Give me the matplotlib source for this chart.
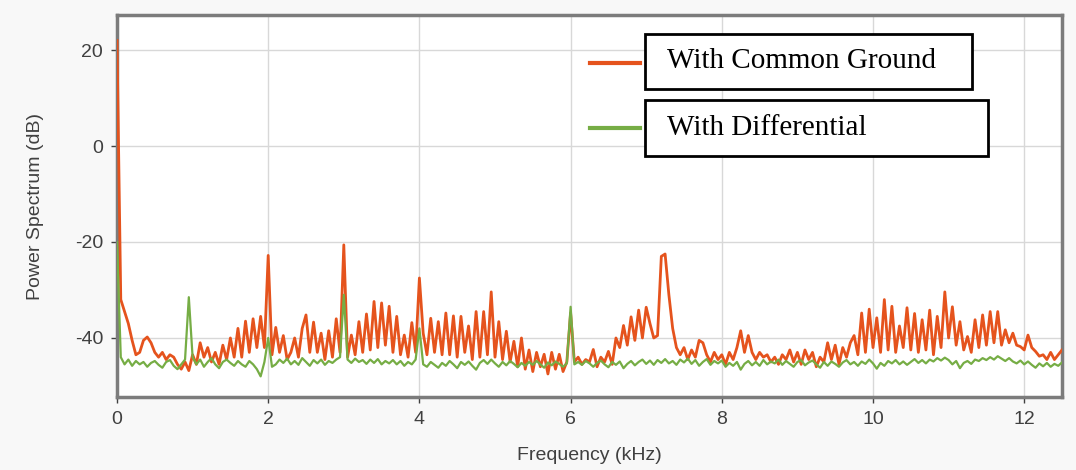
#!/usr/bin/env python3

# Power spectrum: common ground vs differential wiring

import numpy as np
import matplotlib.pyplot as plt
from matplotlib.patches import Rectangle
from matplotlib.lines import Line2D

plt.rcParams['axes.unicode_minus'] = False

# Frequency axis (kHz), one sample every 0.05 kHz
freq_step = 0.05
n_points = 251
freq_khz = np.round(np.arange(n_points) * freq_step, 2)

# With Common Ground (dB)
common_ground = [
    22, -32, -34.5, -37, -40.5, -43.5, -43, -40.5, -39.8, -41,
    -43, -44, -43, -44.5, -43.5, -44, -45.5, -46.5, -45, -46.8,
    -43.5, -45.5, -41, -44, -42, -45, -43, -45.5, -41.5, -44.5,
    -40, -44, -38, -44, -36.5, -43, -36, -42, -35.5, -42,
    -22.8, -43.5, -37.8, -43, -39.5, -44.5, -43, -40, -44, -38,
    -35.2, -43, -36.7, -43, -39, -44.5, -38.5, -44, -36, -43,
    -20.6, -44, -39.4, -43.5, -36.6, -43, -35, -42.5, -32.4, -42,
    -32.7, -41.5, -33.4, -43, -35.5, -43.5, -39.4, -44, -36.8, -43,
    -27.5, -39, -43.5, -35.9, -43, -36.6, -43.5, -34.8, -43.5, -35.4,
    -44, -35.5, -43, -37.5, -44.5, -34.5, -44, -34.5, -43.5, -30.4,
    -44, -36.6, -44.5, -38.6, -45, -40.7, -46, -40, -46.5, -42.5,
    -47, -43, -46, -43.4, -47.5, -43, -46.5, -43.4, -47, -45,
    -34.8, -45, -44, -45.5, -44.5, -45, -42.4, -46, -44, -45,
    -42.8, -45.5, -40, -42, -37.4, -41.5, -35.6, -40.5, -34.2, -40,
    -33.6, -37, -40, -39.5, -23, -22.5, -31, -38, -42, -43.5,
    -42, -44.5, -42.5, -44, -40.5, -41, -43.5, -45, -43, -44.5,
    -43.5, -45.5, -43, -44.5, -42, -38.5, -43, -39.5, -43, -44.5,
    -43, -44, -43.5, -45, -44, -45.5, -43.5, -44.5, -42.5, -45,
    -43, -45.5, -42.5, -44.5, -43, -46, -44, -45, -41, -44.5,
    -41.5, -45.5, -42, -44, -41, -39.5, -43.5, -34.8, -43, -34,
    -42, -35.8, -43, -32, -42.5, -33.4, -43, -37.5, -42, -33.7,
    -42.5, -34.9, -43, -36.2, -42.5, -34.2, -43.5, -35.5, -42, -30.4,
    -40, -33.5, -41.5, -36.6, -42.5, -39.7, -43, -36.2, -42, -35.2,
    -41.5, -34.5, -41, -34.5, -41.5, -38.3, -41, -39, -41.5, -41.8,
    -42.5, -39.4, -42, -42.8, -43.8, -43.5, -44.5, -43, -44.5, -43.5,
    -42.5,
]

# With Differential (dB)
differential = [
    -20, -44, -45.5, -44.5, -45.8, -44.8, -45.5, -45, -46, -45.2,
    -44.8, -45.6, -46.2, -45, -44.6, -45.8, -46.5, -45.5, -44.5, -31.5,
    -44, -45.5, -44.5, -46, -45, -44.2, -45.5, -46.3, -45, -44.5,
    -45.2, -45.8, -44.8, -45.5, -46, -44.8, -45.5, -46.5, -48, -45,
    -40, -46, -45.5, -44.5, -45.2, -44.3, -45.5, -44.8, -45.6, -44.2,
    -45, -45.8, -44.6, -45.3, -44.5, -45.6, -44.8, -45.2, -44.5, -44,
    -31, -44.5, -45.2, -44.3, -45, -44.6, -45.4, -44.5, -45.2, -44.4,
    -45.5, -44.8, -45.3, -44.6, -45.5, -44.8, -45.8, -45, -45.5, -44.5,
    -38, -45.5, -46, -45, -45.6, -46.2, -45.2, -45.8, -44.8, -45.5,
    -46.3, -45, -45.6, -44.9, -45.8, -46.6, -45.2, -44.6, -45.4, -44.5,
    -45.3, -46, -45, -45.7, -44.8, -45.4, -46.1, -45.2, -45.8, -45,
    -45.6, -44.8, -45.5, -46.2, -45.1, -45.7, -44.9, -45.4, -46, -45.3,
    -33.5, -45.5, -45, -45.6, -44.8, -45.3, -46, -45.2, -44.7, -45.5,
    -46.1, -45, -45.6, -44.9, -46.3, -45.4, -44.8, -45.7, -45, -44.5,
    -45.4, -44.7, -45.6, -44.6, -45.2, -44.4, -45.3, -44.8, -45.6, -44.5,
    -45.1, -44.3, -45.4, -44.6, -45.8, -45, -44.4, -45.6, -44.8, -45.3,
    -44.7, -46, -45.2, -45.8, -45, -46.6, -45.4, -44.8, -45.7, -45,
    -45.8, -44.6, -45.5, -44.9, -45.3, -44.5, -45.6, -44.8, -45.4, -46,
    -45, -44.6, -45.7, -45.1, -44.7, -45.5, -46.2, -45, -45.8, -44.9,
    -45.4, -46, -45.1, -44.6, -45.5, -45, -45.8, -44.9, -45.4, -44.5,
    -45.3, -46.4, -45.2, -45.8, -44.8, -45.3, -44.6, -45.5, -44.9, -45.6,
    -45, -44.4, -45.2, -44.6, -45.3, -44.5, -44.9, -44.2, -44.7, -44.1,
    -44.6, -45.5, -44.8, -46.3, -45.2, -44.8, -45.4, -44.5, -44.8, -44.2,
    -44.6, -44, -44.5, -43.8, -44.3, -44.8, -44.2, -44.9, -45.3, -44.7,
    -45.5, -44.9, -45.6, -46.2, -45.3, -45.9, -45.2, -46, -45.4, -45.8,
    -45.1,
]

x_ticks = [0, 2, 4, 6, 8, 10, 12]
y_ticks = [-40, -20, 0, 20]
labels = ['With Common Ground', 'With Differential']
orange = '#e5531d'
green = '#76ad45'

W, H = 1076, 470
fig = plt.figure(figsize=(W / 100, H / 100), dpi=100, facecolor='#f8f8f8')
ax = fig.add_axes([117 / W, 1 - 397 / H, (1062 - 117) / W, (397 - 15) / H])
ax.set_facecolor('white')

ax.plot(freq_khz, common_ground, color=orange, lw=2.0, zorder=3)
ax.plot(freq_khz, differential, color=green, lw=1.6, zorder=4)

ax.set_xlim(0, 12.5)
ax.set_ylim(-52.3, 27.3)
ax.set_xticks(x_ticks)
ax.set_yticks(y_ticks)
ax.grid(True, color='#d8d8d8', lw=1.0)
ax.set_axisbelow(True)
for s in ax.spines.values():
    s.set_color('#7c7c7c')
    s.set_linewidth(2.5)
ax.tick_params(colors='#404040', labelsize=14, length=4, width=1, pad=6)
for lbl in ax.get_xticklabels() + ax.get_yticklabels():
    lbl.set_fontfamily('Liberation Sans')

ax.set_xlabel('Frequency (kHz)', fontsize=14, color='#404040',
              fontfamily='Liberation Sans', labelpad=14)
ax.set_ylabel('Power Spectrum (dB)', fontsize=14, color='#404040',
              fontfamily='Liberation Sans', labelpad=22)

# custom legend: line stub + boxed label
boxes = [(645, 34, 972, 89, 63), (645, 100, 988, 156, 128)]
for (x0, y0, x1, y1, ly), lab, col in zip(boxes, labels, [orange, green]):
    fig.add_artist(Line2D([590 / W, 640 / W], [1 - ly / H, 1 - ly / H],
                          color=col, lw=3, transform=fig.transFigure))
    fig.add_artist(Rectangle((x0 / W, 1 - y1 / H), (x1 - x0) / W, (y1 - y0) / H,
                             transform=fig.transFigure, facecolor='white',
                             edgecolor='black', lw=2, zorder=5))
    fig.text(667 / W, 1 - (y0 + y1) / 2 / H, lab, fontsize=21,
             fontfamily='Liberation Serif', va='center', ha='left', zorder=6)

fig.savefig('out.png', dpi=100, facecolor=fig.get_facecolor())
